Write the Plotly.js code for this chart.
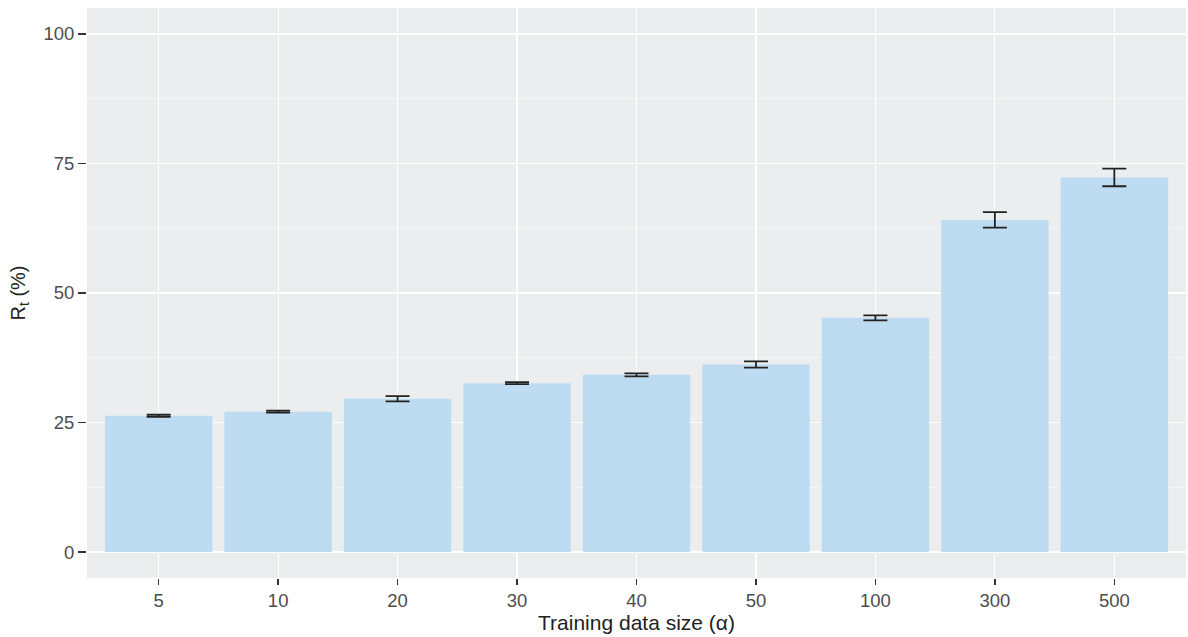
<!DOCTYPE html>
<html>
<head>
<meta charset="utf-8">
<script src="https://cdn.plot.ly/plotly-3.0.1.min.js"></script>
<style>html,body{margin:0;padding:0;background:#fff;}#chart{width:1188px;height:637px;}</style>
</head>
<body>
<div id="chart"></div>
<script>
const categories = ["5", "10", "20", "30", "40", "50", "100", "300", "500"];
const rtValues = [26.3, 27.1, 29.6, 32.6, 34.2, 36.2, 45.2, 64.1, 72.3];
const rtErrors = [0.2, 0.2, 0.5, 0.2, 0.3, 0.6, 0.5, 1.5, 1.7];
const yTicks = [0, 25, 50, 75, 100];

const trace = {
  type: 'bar',
  x: categories,
  y: rtValues,
  marker: {color: '#BEDCF1', line: {width: 0}},
  error_y: {type: 'data', array: rtErrors, visible: true, color: '#222222', thickness: 1.8, width: 12},
  hoverinfo: 'x+y'
};

const layout = {
  width: 1188, height: 637,
  margin: {l: 87, r: 2, t: 8, b: 59},
  paper_bgcolor: '#ffffff',
  plot_bgcolor: '#ECEDEF',
  bargap: 0.1,
  showlegend: false,
  font: {family: 'Liberation Sans, Arial, sans-serif', color: '#4D4D4D'},
  xaxis: {
    type: 'category',
    categoryorder: 'array', categoryarray: categories,
    range: [-0.6, 8.6],
    showgrid: true, gridcolor: '#FFFFFF', gridwidth: 1.2,
    ticks: 'outside', ticklen: 6, tickwidth: 1.4, tickcolor: '#333333',
    tickfont: {size: 18.5, color: '#4D4D4D'},
    showline: false, zeroline: false,
    title: {text: 'Training data size (α)', font: {size: 21, color: '#222222'}, standoff: 2}
  },
  yaxis: {
    range: [-5, 105],
    tickmode: 'array', tickvals: yTicks, ticktext: yTicks.map(String),
    showgrid: true, gridcolor: '#FFFFFF', gridwidth: 1.2,
    minor: {tickvals: [12.5, 37.5, 62.5, 87.5], showgrid: true, gridcolor: '#F5F6F7', gridwidth: 0.8, ticks: ''},
    ticks: 'outside', ticklen: 8, tickwidth: 1.4, tickcolor: '#333333',
    tickfont: {size: 18.5, color: '#4D4D4D'},
    showline: false, zeroline: false,
    title: {text: 'R<sub>t</sub> (%)', font: {size: 20, color: '#222222'}, standoff: 12}
  }
};

Plotly.newPlot('chart', [trace], layout, {displayModeBar: false, staticPlot: true});
</script>
</body>
</html>
